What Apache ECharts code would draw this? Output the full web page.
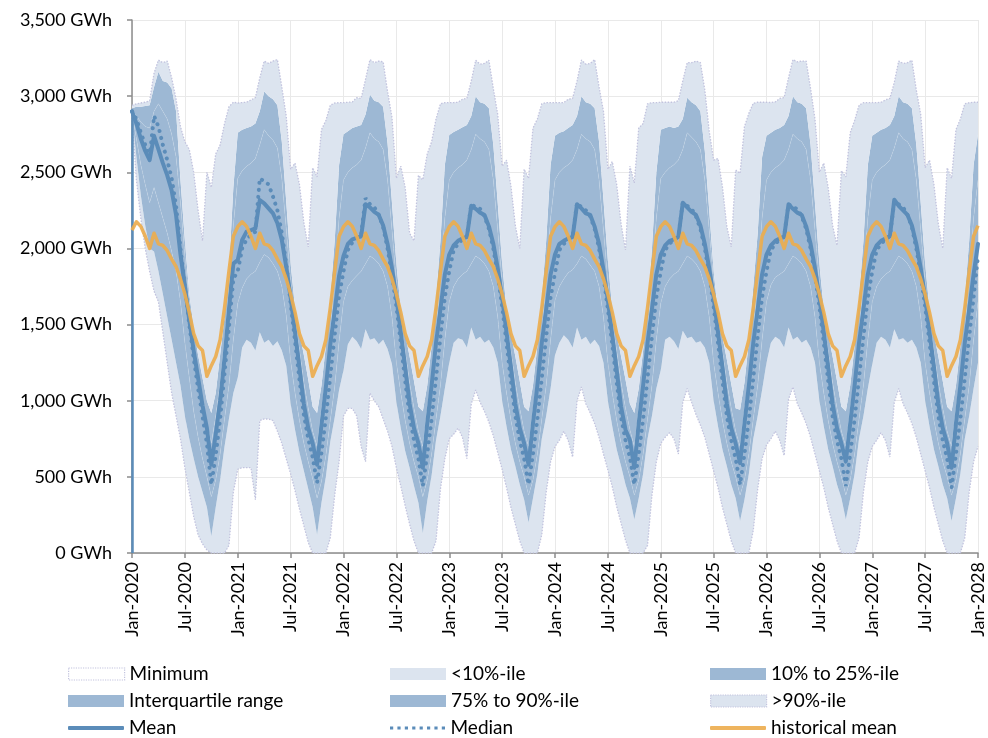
<!DOCTYPE html>
<html><head><meta charset="utf-8">
<script src="https://cdn.jsdelivr.net/npm/echarts@6/dist/echarts.min.js"></script>
<style>html,body{margin:0;padding:0;background:#fff}#c{width:988px;height:738px}</style>
</head><body><div id="c"></div>
<script>
// ---- DATA (GWh), one point every half month, Jan-2020 .. Jan-2028 ----
const X_TICK_LABELS = ['Jan-2020','Jul-2020','Jan-2021','Jul-2021','Jan-2022','Jul-2022','Jan-2023','Jul-2023','Jan-2024','Jul-2024','Jan-2025','Jul-2025','Jan-2026','Jul-2026','Jan-2027','Jul-2027','Jan-2028'];
const Y_TICK_LABELS = ['0 GWh','500 GWh','1,000 GWh','1,500 GWh','2,000 GWh','2,500 GWh','3,000 GWh','3,500 GWh'];
const POINTS_PER_TICK = 12;   // half-month points, tick every 6 months
const MEAN_START_VALUE = 0;

const MINIMUM = [
2870,2450,2200,2000,1850,1720,1650,1450,1250,1050,900,750,560,400,240,120,60,20,0,0,0,0,50,400,
550,560,560,560,350,870,880,880,870,800,720,620,520,410,290,180,70,0,0,0,0,100,380,600,
900,950,950,900,700,600,1050,1000,960,880,800,700,560,440,310,190,80,0,0,0,0,80,420,620,
750,780,820,760,620,980,1070,990,930,860,770,660,550,430,300,190,80,0,0,0,0,120,400,600,
700,740,800,740,630,1000,1090,980,920,850,760,650,545,435,305,195,85,0,0,0,0,50,380,600,
720,760,790,750,650,990,1080,990,910,840,760,650,540,430,300,190,80,0,0,0,0,150,420,620,
710,750,800,740,640,1010,1090,980,920,850,760,650,540,430,300,190,80,0,0,0,0,100,400,600,
700,740,790,740,630,990,1080,980,920,850,760,650,540,430,300,190,80,0,0,0,0,100,400,600,
700];

const P10 = [
2880,2600,2350,2150,2000,1980,1850,1700,1550,1400,1250,1100,900,750,620,500,400,300,110,300,480,700,880,1050,
1150,1350,1400,1380,1330,1450,1380,1400,1360,1390,1330,1230,980,810,660,540,420,300,120,330,500,730,890,1070,
1200,1370,1420,1390,1340,1470,1400,1410,1370,1400,1340,1240,990,820,670,560,440,330,130,340,510,740,900,1080,
1250,1380,1410,1400,1350,1480,1400,1420,1380,1400,1350,1250,1000,830,680,570,450,350,200,360,520,750,900,1080,
1300,1380,1430,1400,1350,1480,1400,1420,1370,1400,1360,1250,1000,830,680,570,450,360,220,360,520,750,900,1080,
1200,1400,1420,1390,1340,1460,1410,1420,1380,1390,1350,1250,1000,830,680,570,450,360,210,350,520,750,900,1070,
1250,1380,1420,1400,1350,1480,1400,1420,1380,1400,1350,1250,1000,830,680,570,450,360,220,360,520,750,900,1080,
1240,1380,1420,1400,1350,1470,1400,1410,1380,1400,1350,1250,1000,830,680,570,450,360,210,360,520,750,900,1080,
1250];

const P25 = [
2890,2720,2550,2420,2300,2400,2300,2200,2100,1980,1850,1650,1380,1150,930,760,620,500,370,480,650,880,1100,1400,
1640,1740,1800,1830,1850,1910,1960,1940,1900,1850,1750,1560,1260,1050,870,720,600,490,360,470,640,870,1090,1390,
1650,1750,1790,1820,1850,1900,1950,1930,1900,1850,1750,1550,1250,1050,870,720,600,500,370,480,650,880,1100,1400,
1650,1750,1800,1830,1850,1900,1950,1930,1900,1850,1750,1550,1250,1050,870,720,600,500,380,480,650,880,1100,1400,
1660,1750,1800,1840,1860,1900,1950,1930,1890,1850,1750,1550,1250,1050,870,720,600,500,380,480,650,880,1100,1400,
1640,1750,1800,1830,1850,1900,1950,1930,1900,1850,1750,1550,1250,1050,870,720,600,500,380,480,650,880,1100,1400,
1650,1760,1810,1830,1850,1900,1950,1930,1900,1850,1750,1550,1250,1050,870,720,600,500,380,480,650,880,1100,1400,
1650,1750,1800,1830,1850,1900,1950,1930,1900,1850,1750,1550,1250,1050,870,720,600,500,380,480,650,880,1100,1400,
1650];

const P75 = [
2910,2870,2830,2800,2790,2900,2950,2900,2850,2750,2600,2300,1950,1650,1400,1180,1000,850,720,900,1120,1400,1750,2150,
2460,2510,2540,2560,2590,2680,2780,2740,2710,2660,2460,2130,1790,1530,1340,1120,950,800,700,950,1150,1450,1800,2200,
2450,2500,2530,2550,2580,2660,2760,2720,2700,2650,2450,2120,1780,1520,1330,1120,950,800,700,950,1150,1450,1800,2200,
2450,2500,2530,2550,2580,2650,2750,2720,2700,2650,2450,2120,1780,1520,1330,1120,950,800,700,950,1150,1450,1800,2200,
2450,2500,2530,2550,2580,2650,2750,2720,2700,2650,2450,2120,1780,1520,1330,1120,950,810,700,950,1150,1450,1800,2200,
2460,2500,2530,2550,2580,2650,2760,2730,2700,2650,2450,2120,1780,1520,1330,1120,950,800,700,950,1150,1450,1800,2200,
2450,2500,2530,2550,2580,2650,2750,2720,2700,2650,2450,2120,1780,1520,1330,1120,950,800,700,950,1150,1450,1800,2200,
2450,2500,2530,2550,2580,2660,2760,2720,2700,2650,2450,2120,1780,1520,1330,1120,950,800,700,950,1150,1450,1800,2200,
2450];

const P90 = [
2920,2930,2930,2935,2940,3060,3160,3100,3090,3050,2900,2450,2050,1700,1480,1300,1150,1000,920,1050,1300,1550,1850,2400,
2760,2780,2790,2800,2820,2900,3030,3000,2980,2940,2700,2310,1900,1610,1450,1300,1140,960,920,1100,1360,1680,2050,2550,
2750,2770,2790,2800,2810,2880,3010,2970,2960,2930,2690,2300,1900,1600,1440,1290,1130,960,930,1100,1360,1680,2050,2550,
2745,2765,2780,2795,2810,2870,3000,2960,2950,2920,2680,2300,1900,1600,1440,1290,1130,960,930,1100,1360,1680,2050,2550,
2740,2760,2770,2790,2810,2870,3000,2960,2950,2920,2700,2320,1920,1600,1440,1290,1140,980,920,1080,1330,1600,2000,2500,
2780,2790,2800,2790,2800,2850,2990,2960,2940,2900,2640,2250,1850,1580,1420,1270,1110,950,940,1120,1390,1750,2100,2600,
2740,2760,2780,2790,2810,2870,3000,2960,2950,2920,2680,2300,1900,1600,1440,1290,1130,960,930,1100,1360,1680,2050,2550,
2740,2760,2780,2790,2810,2870,3000,2960,2950,2920,2680,2300,1900,1600,1440,1290,1130,960,930,1100,1360,1680,2050,2550,
2750];

const MAXIMUM = [
2940,2950,2955,2960,2970,3150,3237,3220,3230,3120,2980,2800,2700,2650,2500,2250,2050,2500,2400,2620,2680,2820,2930,2960,
2955,2958,2960,2975,2990,3120,3230,3215,3230,3240,3060,2870,2520,2560,2420,2170,2010,2530,2470,2780,2840,2940,2955,2957,
2957,2960,2962,2990,2985,3110,3240,3220,3230,3225,3030,2860,2460,2540,2400,2100,2050,2480,2450,2620,2700,2850,2950,2957,
2957,2958,2960,2980,2985,3100,3235,3210,3215,3235,3050,2880,2540,2580,2410,2150,2000,2520,2460,2790,2850,2950,2957,2957,
2957,2957,2957,2980,2985,3100,3237,3210,3215,3240,3060,2900,2520,2570,2420,2160,1990,2540,2430,2790,2820,2950,2957,2957,
2960,2960,2960,2960,2970,3100,3220,3220,3230,3220,3040,2770,2580,2590,2405,2143,2011,2515,2493,2800,2887,2953,2960,2960,
2960,2958,2962,2985,2990,3120,3240,3225,3230,3230,3050,2850,2500,2560,2400,2150,2020,2510,2470,2760,2840,2940,2957,2957,
2957,2957,2960,2975,2985,3090,3230,3215,3220,3235,3040,2880,2530,2580,2420,2160,2000,2530,2460,2780,2850,2950,2957,2960,
2960];

const MEAN = [
2900,2820,2720,2640,2580,2740,2650,2560,2480,2380,2220,1960,1750,1530,1330,1150,970,820,580,780,1000,1280,1600,1900,
1924,2055,2110,2120,2131,2318,2296,2263,2230,2165,2055,1880,1680,1450,1220,980,820,720,580,840,1090,1370,1590,1820,
1950,2030,2060,2070,2080,2290,2270,2240,2220,2150,2030,1870,1680,1450,1220,980,820,720,560,850,1100,1380,1600,1830,
1960,2020,2050,2066,2075,2280,2260,2235,2220,2145,2030,1870,1680,1450,1220,980,820,720,580,850,1100,1380,1600,1830,
1960,2030,2050,2066,2075,2290,2263,2230,2220,2143,2030,1860,1660,1430,1200,960,810,740,560,850,1100,1380,1600,1830,
1960,2020,2050,2060,2075,2300,2270,2240,2220,2150,2030,1870,1680,1450,1220,980,820,720,590,850,1100,1380,1600,1830,
1960,2020,2050,2066,2075,2290,2260,2235,2220,2145,2030,1870,1680,1450,1220,980,820,720,600,850,1100,1380,1600,1830,
1960,2020,2050,2066,2080,2320,2280,2250,2220,2150,2030,1870,1680,1450,1220,980,820,720,560,850,1100,1380,1600,1830,
2030];

const MEDIAN = [
2900,2850,2760,2680,2600,2870,2800,2680,2580,2460,2280,2000,1750,1500,1280,1080,900,720,450,640,880,1180,1480,1800,
1850,2000,2060,2090,2110,2460,2440,2420,2340,2250,2100,1900,1640,1390,1140,910,750,630,460,660,890,1160,1430,1690,
1850,1990,2040,2070,2090,2330,2290,2270,2220,2140,2000,1830,1620,1380,1130,900,740,620,440,650,880,1150,1420,1680,
1850,1990,2030,2060,2080,2290,2270,2260,2210,2130,2000,1830,1620,1380,1130,900,740,620,450,650,880,1150,1420,1680,
1840,1990,2030,2060,2080,2300,2270,2250,2210,2130,2000,1820,1600,1370,1120,890,740,630,450,650,880,1150,1420,1680,
1850,1990,2030,2060,2080,2300,2280,2260,2210,2130,2000,1830,1620,1380,1130,900,740,620,450,650,880,1150,1420,1680,
1850,1990,2030,2060,2080,2290,2270,2260,2210,2130,2000,1830,1620,1380,1130,900,740,620,440,650,880,1150,1420,1680,
1850,1990,2030,2060,2080,2310,2290,2270,2220,2140,2000,1830,1620,1380,1130,900,740,620,430,650,880,1150,1420,1680,
1950];

const HIST_MEAN = [
2120,2175,2145,2080,2000,2100,2030,2020,1985,1930,1880,1800,1700,1580,1440,1360,1330,1160,1230,1290,1400,1610,1850,2080,
2143,2175,2145,2080,2000,2100,2030,2020,1985,1930,1880,1800,1700,1580,1440,1360,1330,1160,1230,1290,1400,1610,1850,2080,
2143,2175,2145,2080,2000,2100,2030,2020,1985,1930,1880,1800,1700,1580,1440,1360,1330,1160,1230,1290,1400,1610,1850,2080,
2143,2175,2145,2080,2000,2100,2030,2020,1985,1930,1880,1800,1700,1580,1440,1360,1330,1160,1230,1290,1400,1610,1850,2080,
2143,2175,2145,2080,2000,2100,2030,2020,1985,1930,1880,1800,1700,1580,1440,1360,1330,1160,1230,1290,1400,1610,1850,2080,
2143,2175,2145,2080,2000,2100,2030,2020,1985,1930,1880,1800,1700,1580,1440,1360,1330,1160,1230,1290,1400,1610,1850,2080,
2143,2175,2145,2080,2000,2100,2030,2020,1985,1930,1880,1800,1700,1580,1440,1360,1330,1160,1230,1290,1400,1610,1850,2080,
2143,2175,2145,2080,2000,2100,2030,2020,1985,1930,1880,1800,1700,1580,1440,1360,1330,1160,1230,1290,1400,1610,1850,2080,
2150];

// ---- STYLE ----
const FONT = 'Lato';
const LIGHT = '#dce4ef';
const MED = '#9db8d4';
const BLUE = '#5b8cb9';
const ORANGE = 'rgba(236,172,78,0.92)';
const DOT = '#c2c3de';

const cats = MINIMUM.map((_, i) => String(i));
const band = (upper, lower) => upper.map((v, i) => Math.max(0, v - (lower ? lower[i] : 0)));
const onTick = i => i % POINTS_PER_TICK === 0;

let dotPath = 'path://';
for (let k = 0; k < 8; k++) dotPath += 'M' + (k * 7.4 + 0.5) + ',0h3.2v3.2h-3.2z';

const legendBase = {
  itemWidth: 56, itemHeight: 12, selectedMode: false, padding: 0, itemGap: 0,
  textStyle: { fontFamily: FONT, fontSize: 19, color: '#000', lineHeight: 20 }
};
const COLS = [68, 390, 710], ROWS = [664, 691, 718];
function lg(name, col, row, extra) {
  return Object.assign({}, legendBase, { left: COLS[col], top: ROWS[row], data: [Object.assign({ name }, extra.item || {})] }, extra.opts || {});
}

const areaCommon = { type: 'line', stack: 'pct', symbol: 'none', showSymbol: false, silent: true, smooth: false };
const FAINT = { width: 0.8, color: 'rgba(255,255,255,0.14)' };

const chart = echarts.init(document.getElementById('c'));
chart.setOption({
  animation: false,
  backgroundColor: '#fff',
  grid: { left: 132, right: 10, top: 20, bottom: 185 },
  xAxis: {
    type: 'category', data: cats, boundaryGap: false,
    axisLine: { show: true, lineStyle: { color: '#8c8c8c', width: 1.5 } },
    axisTick: { show: true, length: 5, interval: onTick, lineStyle: { color: '#8c8c8c', width: 1.5 } },
    splitLine: { show: true, interval: onTick, lineStyle: { color: '#e9e9e9', width: 1 } },
    axisLabel: { rotate: 90, margin: 9, interval: onTick, fontFamily: FONT, fontSize: 18, color: '#000',
      formatter: (v, i) => X_TICK_LABELS[Math.round(i / POINTS_PER_TICK)] }
  },
  yAxis: {
    type: 'value', min: 0, max: 3500, interval: 500,
    axisLine: { show: true, lineStyle: { color: '#8c8c8c', width: 1.5 } },
    axisTick: { show: true, length: 5, lineStyle: { color: '#8c8c8c', width: 1.5 } },
    splitLine: { show: true, lineStyle: { color: '#e9e9e9', width: 1 } },
    axisLabel: { margin: 20, fontFamily: FONT, fontSize: 18, color: '#000',
      formatter: v => Y_TICK_LABELS[Math.round(v / 500)] }
  },
  legend: [
    lg('Minimum', 0, 0, { item: { icon: 'rect', itemStyle: { color: 'rgba(255,255,255,0)', borderColor: DOT, borderWidth: 1.2, borderType: 'dotted' } } }),
    lg('<10%-ile', 1, 0, { item: { icon: 'rect', itemStyle: { color: LIGHT, borderWidth: 0 } } }),
    lg('10% to 25%-ile', 2, 0, { item: { icon: 'rect', itemStyle: { color: MED, borderWidth: 0 } } }),
    lg('Interquartile range', 0, 1, { item: { icon: 'rect', itemStyle: { color: MED, borderWidth: 0 } } }),
    lg('75% to 90%-ile', 1, 1, { item: { icon: 'rect', itemStyle: { color: MED, borderWidth: 0 } } }),
    lg('>90%-ile', 2, 1, { item: { icon: 'rect', itemStyle: { color: LIGHT, borderColor: DOT, borderWidth: 1.2, borderType: 'dotted' } } }),
    lg('Mean', 0, 2, { item: { icon: 'roundRect', itemStyle: { color: BLUE, borderWidth: 0 } }, opts: { itemHeight: 4 } }),
    lg('Median', 1, 2, { item: { icon: dotPath, itemStyle: { color: BLUE, borderWidth: 0 } }, opts: { itemHeight: 3.2 } }),
    lg('historical mean', 2, 2, { item: { icon: 'roundRect', itemStyle: { color: '#eeb45e', borderWidth: 0 } }, opts: { itemHeight: 4 } })
  ],
  series: [
    Object.assign({}, areaCommon, { name: 'Minimum', z: 3, color: DOT, data: band(MINIMUM),
      lineStyle: { color: DOT, width: 1.3, type: [1.5, 1.5] } }),
    Object.assign({}, areaCommon, { name: '<10%-ile', z: 2, color: LIGHT, data: band(P10, MINIMUM),
      lineStyle: { width: 0 }, areaStyle: { color: LIGHT, opacity: 1 } }),
    Object.assign({}, areaCommon, { name: '10% to 25%-ile', z: 2, color: MED, data: band(P25, P10),
      lineStyle: FAINT, areaStyle: { color: MED, opacity: 1 } }),
    Object.assign({}, areaCommon, { name: 'Interquartile range', z: 2, color: MED, data: band(P75, P25),
      lineStyle: FAINT, areaStyle: { color: MED, opacity: 1 } }),
    Object.assign({}, areaCommon, { name: '75% to 90%-ile', z: 2, color: MED, data: band(P90, P75),
      lineStyle: { width: 0 }, areaStyle: { color: MED, opacity: 1 } }),
    Object.assign({}, areaCommon, { name: '>90%-ile', z: 2, color: LIGHT, data: band(MAXIMUM, P90),
      lineStyle: { color: DOT, width: 1.3, type: [1.5, 1.5] }, areaStyle: { color: LIGHT, opacity: 1 } }),
    { name: 'Mean', type: 'line', symbol: 'none', showSymbol: false, silent: true, z: 5, color: BLUE,
      data: MEAN,
      lineStyle: { color: BLUE, width: 4, join: 'round', cap: 'round' },
      markLine: { silent: true, symbol: 'none', label: { show: false },
        lineStyle: { color: BLUE, width: 2.5, type: 'solid' },
        data: [[{ coord: [cats[0], MEAN_START_VALUE] }, { coord: [cats[0], MEAN[0]] }]] } },
    { name: 'Median', type: 'line', symbol: 'none', showSymbol: false, silent: true, z: 5, color: BLUE,
      data: MEDIAN,
      lineStyle: { color: BLUE, width: 4, type: [0.1, 7], cap: 'round' } },
    { name: 'historical mean', type: 'line', symbol: 'none', showSymbol: false, silent: true, z: 6, color: ORANGE,
      data: HIST_MEAN,
      lineStyle: { color: ORANGE, width: 3.5, join: 'round' } }
  ]
});
</script></body></html>
